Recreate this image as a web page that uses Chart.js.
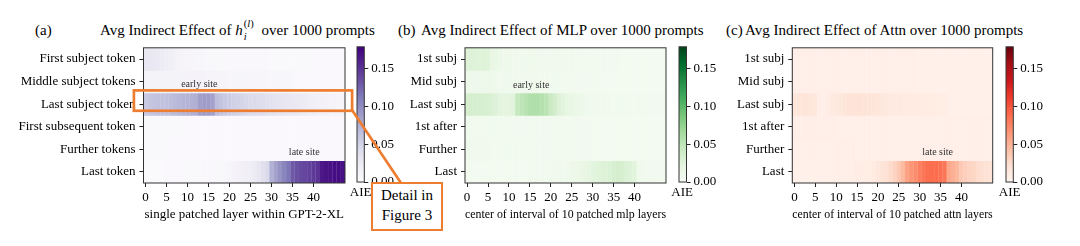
<!DOCTYPE html>
<html><head><meta charset="utf-8">
<script src="https://cdn.jsdelivr.net/npm/chart.js@4.4.0/dist/chart.umd.min.js"></script>
<style>
html,body{margin:0;padding:0;background:#fff;width:1080px;height:246px;overflow:hidden;font-family:"Liberation Serif",serif;}
body{position:relative;}
canvas{position:absolute;}
.t{position:absolute;font-size:15px;line-height:18px;white-space:nowrap;color:#000;}
.ss{display:inline-block;position:relative;width:15px;height:10px;}
.ss span{position:absolute;left:1px;font-size:10.5px;line-height:10px;}
.aie{position:absolute;top:184px;width:40px;text-align:center;font-size:13px;line-height:16px;color:#000;}
#detail{position:absolute;left:371px;top:182px;width:68px;height:43px;border:2.7px solid #ED7D31;background:#fff;font-size:15px;line-height:19.5px;text-align:center;padding-top:2px;color:#000;}
svg{position:absolute;left:0;top:0;}
</style></head><body>
<div class="t" style="left:35px;top:21px;">(a)</div>
<div class="t" style="left:100px;top:21px;">Avg Indirect Effect of <i>h</i><span class="ss"><span style="top:-6px">(<i>l</i>)</span><span style="top:7px"><i>i</i></span></span> over 1000 prompts</div>
<div class="t" style="left:398px;top:21px;">(b)</div>
<div class="t" style="left:421px;top:21px;">Avg Indirect Effect of MLP over 1000 prompts</div>
<div class="t" style="left:726px;top:21px;">(c)</div>
<div class="t" style="left:745px;top:21px;">Avg Indirect Effect of Attn over 1000 prompts</div>

<canvas id="ha" width="350" height="196" style="left:0;top:36px"></canvas>
<canvas id="hb" width="320" height="196" style="left:350px;top:36px"></canvas>
<canvas id="hc" width="296" height="196" style="left:700px;top:36px"></canvas>
<canvas id="ca" width="70" height="196" style="left:337px;top:36px"></canvas>
<canvas id="cb" width="70" height="196" style="left:658.5px;top:36px"></canvas>
<canvas id="cc" width="70" height="196" style="left:986px;top:36px"></canvas>
<div class="aie" style="left:340.6px;">AIE</div>
<div class="aie" style="left:662.2px;">AIE</div>
<div class="aie" style="left:989.6px;">AIE</div>

<svg width="1080" height="246">
  <rect x="133.9" y="90.4" width="218.2" height="20.4" fill="none" stroke="#ED7D31" stroke-width="2.7"/>
  <line x1="352" y1="110" x2="401" y2="183" stroke="#ED7D31" stroke-width="2.7"/>
</svg>
<div id="detail">Detail in<br>Figure 3</div>

<script>
// ---------- categories & tick labels ----------
const layers = [0,1,2,3,4,5,6,7,8,9,10,11,12,13,14,15,16,17,18,19,20,21,22,23,
                24,25,26,27,28,29,30,31,32,33,34,35,36,37,38,39,40,41,42,43,44,45,46,47];
const xTickLabels = [0,5,10,15,20,25,30,35,40];
const rowLabelsLong = ['First subject token','Middle subject tokens','Last subject token',
                       'First subsequent token','Further tokens','Last token'];
const rowLabelsShort = ['1st subj','Mid subj','Last subj','1st after','Further','Last'];
const colorbarTicks = [0, 0.05, 0.10, 0.15];
const aieMax = 0.179;

// ---------- (a) hidden states ----------
const stateFirstSubj = [0.030,0.030,0.028,0.027,0.025,0.022,0.019,0.016,0.013,0.011,
 0.010,0.009,0.008,0.008,0.008,0.007,0.007,0.007,0.007,0.007,
 0.006,0.006,0.006,0.006,0.006,0.006,0.006,0.006,0.006,0.006,
 0.005,0.005,0.005,0.005,0.005,0.005,0.005,0.005,0.005,0.005,
 0.004,0.004,0.004,0.004,0.004,0.004,0.004,0.004];
const stateMidSubj = [0.013,0.013,0.013,0.013,0.013,0.013,0.013,0.013,0.013,0.012,
 0.012,0.012,0.012,0.012,0.012,0.011,0.011,0.011,0.011,0.011,
 0.010,0.010,0.010,0.010,0.010,0.009,0.009,0.009,0.009,0.009,
 0.008,0.008,0.008,0.008,0.008,0.007,0.004,0.004,0.004,0.004,
 0.004,0.004,0.004,0.004,0.004,0.004,0.004,0.004];
const stateLastSubj = [0.058,0.060,0.062,0.063,0.063,0.064,0.066,0.068,0.070,0.072,
 0.073,0.074,0.076,0.086,0.088,0.088,0.085,0.066,0.062,0.058,
 0.055,0.052,0.050,0.048,0.046,0.044,0.043,0.041,0.040,0.038,
 0.036,0.034,0.032,0.031,0.030,0.029,0.028,0.026,0.024,0.022,
 0.020,0.018,0.016,0.014,0.013,0.012,0.011,0.010];
const stateFirstAfter = [0.005,0.005,0.005,0.005,0.005,0.005,0.005,0.005,0.005,0.005,
 0.004,0.004,0.004,0.004,0.004,0.004,0.004,0.004,0.004,0.004,
 0.004,0.004,0.004,0.004,0.004,0.004,0.004,0.004,0.004,0.004,
 0.004,0.004,0.004,0.004,0.004,0.004,0.004,0.004,0.004,0.004,
 0.004,0.004,0.004,0.004,0.004,0.004,0.004,0.004];
const stateFurther = [0.005,0.005,0.005,0.005,0.005,0.005,0.004,0.004,0.004,0.004,
 0.004,0.004,0.004,0.004,0.004,0.004,0.004,0.004,0.004,0.004,
 0.004,0.004,0.004,0.004,0.004,0.004,0.004,0.004,0.004,0.004,
 0.004,0.004,0.004,0.004,0.004,0.004,0.004,0.004,0.004,0.004,
 0.004,0.004,0.004,0.004,0.004,0.004,0.004,0.004];
const stateLast = [0.003,0.003,0.003,0.003,0.003,0.004,0.004,0.004,0.004,0.004,
 0.005,0.005,0.005,0.005,0.006,0.006,0.006,0.007,0.007,0.008,
 0.010,0.012,0.014,0.016,0.019,0.022,0.026,0.031,0.037,0.045,
 0.075,0.085,0.095,0.105,0.115,0.130,0.135,0.138,0.140,0.143,
 0.146,0.150,0.165,0.168,0.170,0.172,0.172,0.170];

// ---------- (b) MLP ----------
const mlpFirstSubj = [0.027,0.028,0.028,0.027,0.027,0.026,0.018,0.017,0.012,0.011,
 0.011,0.010,0.010,0.010,0.010,0.010,0.010,0.009,0.009,0.009,
 0.009,0.009,0.008,0.008,0.008,0.008,0.007,0.007,0.007,0.007,
 0.007,0.006,0.006,0.006,0.006,0.006,0.006,0.005,0.005,0.005,
 0.005,0.005,0.005,0.005,0.005,0.005,0.005,0.005];
const mlpMidSubj = [0.012,0.012,0.012,0.012,0.012,0.012,0.011,0.011,0.009,0.009,
 0.009,0.009,0.009,0.009,0.009,0.009,0.008,0.008,0.008,0.008,
 0.007,0.007,0.007,0.006,0.006,0.006,0.006,0.006,0.006,0.006,
 0.006,0.006,0.005,0.005,0.005,0.005,0.005,0.005,0.005,0.005,
 0.005,0.005,0.005,0.005,0.005,0.005,0.005,0.005];
const mlpLastSubj = [0.034,0.035,0.035,0.035,0.034,0.032,0.030,0.028,0.024,0.022,
 0.022,0.024,0.045,0.050,0.054,0.057,0.058,0.058,0.056,0.052,
 0.042,0.036,0.028,0.024,0.020,0.018,0.015,0.013,0.011,0.010,
 0.009,0.009,0.008,0.008,0.008,0.007,0.007,0.007,0.007,0.006,
 0.006,0.006,0.006,0.006,0.006,0.006,0.006,0.006];
const mlpFirstAfter = [0.007,0.007,0.007,0.007,0.007,0.007,0.007,0.007,0.007,0.007,
 0.006,0.006,0.006,0.006,0.006,0.006,0.006,0.006,0.006,0.006,
 0.006,0.006,0.006,0.006,0.006,0.006,0.006,0.006,0.006,0.006,
 0.005,0.005,0.005,0.005,0.005,0.005,0.005,0.005,0.005,0.005,
 0.005,0.005,0.005,0.005,0.005,0.005,0.005,0.005];
const mlpFurther = [0.009,0.009,0.009,0.009,0.009,0.008,0.007,0.007,0.007,0.007,
 0.007,0.007,0.007,0.007,0.007,0.006,0.006,0.006,0.006,0.006,
 0.006,0.006,0.006,0.006,0.006,0.006,0.006,0.006,0.006,0.006,
 0.005,0.005,0.005,0.005,0.005,0.005,0.005,0.005,0.005,0.005,
 0.005,0.005,0.005,0.005,0.005,0.005,0.005,0.005];
const mlpLast = [0.005,0.005,0.005,0.005,0.005,0.005,0.005,0.005,0.005,0.005,
 0.005,0.005,0.005,0.005,0.005,0.006,0.006,0.006,0.006,0.007,
 0.007,0.008,0.009,0.010,0.011,0.012,0.013,0.015,0.019,0.021,
 0.023,0.025,0.027,0.028,0.030,0.033,0.035,0.034,0.030,0.028,
 0.025,0.010,0.008,0.007,0.007,0.006,0.006,0.006];

// ---------- (c) Attention ----------
const attnFirstSubj = [0.006,0.006,0.006,0.006,0.006,0.006,0.006,0.006,0.006,0.006,
 0.006,0.006,0.006,0.006,0.006,0.006,0.006,0.006,0.006,0.006,
 0.006,0.006,0.006,0.006,0.006,0.006,0.006,0.006,0.006,0.006,
 0.005,0.005,0.005,0.005,0.005,0.005,0.005,0.005,0.005,0.005,
 0.005,0.005,0.005,0.005,0.005,0.005,0.005,0.005];
const attnMidSubj = [0.006,0.006,0.006,0.006,0.006,0.006,0.006,0.006,0.006,0.006,
 0.006,0.006,0.006,0.006,0.006,0.006,0.006,0.006,0.006,0.006,
 0.006,0.006,0.006,0.006,0.006,0.006,0.006,0.006,0.006,0.006,
 0.005,0.005,0.005,0.005,0.005,0.005,0.005,0.005,0.005,0.005,
 0.005,0.005,0.005,0.005,0.005,0.005,0.005,0.005];
const attnLastSubj = [0.016,0.017,0.017,0.017,0.016,0.015,0.007,0.006,0.008,0.012,
 0.013,0.014,0.017,0.018,0.019,0.019,0.019,0.018,0.018,0.017,
 0.016,0.014,0.013,0.012,0.012,0.012,0.011,0.011,0.011,0.011,
 0.011,0.010,0.010,0.010,0.010,0.010,0.009,0.006,0.005,0.005,
 0.005,0.005,0.005,0.005,0.005,0.005,0.005,0.005];
const attnFirstAfter = [0.007,0.007,0.007,0.007,0.007,0.007,0.007,0.007,0.007,0.007,
 0.006,0.006,0.006,0.006,0.006,0.006,0.006,0.006,0.006,0.006,
 0.006,0.006,0.006,0.006,0.006,0.006,0.006,0.006,0.006,0.006,
 0.006,0.006,0.006,0.006,0.006,0.006,0.006,0.006,0.006,0.006,
 0.006,0.006,0.006,0.006,0.006,0.006,0.006,0.006];
const attnFurther = [0.006,0.006,0.006,0.006,0.006,0.006,0.006,0.006,0.006,0.006,
 0.007,0.007,0.007,0.007,0.007,0.006,0.006,0.006,0.006,0.006,
 0.006,0.006,0.006,0.006,0.006,0.006,0.006,0.006,0.006,0.006,
 0.006,0.006,0.006,0.006,0.006,0.006,0.006,0.006,0.006,0.006,
 0.006,0.006,0.006,0.006,0.006,0.006,0.006,0.006];
const attnLast = [0.005,0.005,0.005,0.005,0.005,0.005,0.006,0.006,0.006,0.006,
 0.006,0.007,0.007,0.007,0.007,0.008,0.008,0.009,0.010,0.011,
 0.014,0.017,0.020,0.025,0.030,0.036,0.045,0.058,0.065,0.070,
 0.078,0.082,0.086,0.088,0.088,0.086,0.082,0.055,0.050,0.046,
 0.036,0.033,0.030,0.028,0.024,0.022,0.020,0.019];

// ---------- colormaps (matplotlib / ColorBrewer) ----------
const PURPLES = ['#fcfbfd','#efedf5','#dadaeb','#bcbddc','#9e9ac8','#807dba','#6a51a3','#54278f','#3f007d'];
const GREENS  = ['#f7fcf5','#e5f5e0','#c7e9c0','#a1d99b','#74c476','#41ab5d','#238b45','#006d2c','#00441b'];
const REDS    = ['#fff5f0','#fee0d2','#fcbba1','#fc9272','#fb6a4a','#ef3b2c','#cb181d','#a50f15','#67000d'];

function hex2rgb(h){ return [parseInt(h.substr(1,2),16),parseInt(h.substr(3,2),16),parseInt(h.substr(5,2),16)]; }
function cmap(stops, v){
  const t = Math.max(0, Math.min(1, v / aieMax));
  const n = stops.length - 1, p = t * n;
  const i = Math.min(n - 1, Math.floor(p)), f = p - i;
  const a = hex2rgb(stops[i]), b = hex2rgb(stops[i+1]);
  return 'rgb(' + a.map((c,k)=>Math.round(c + (b[k]-c)*f)).join(',') + ')';
}

const FONT = "'Liberation Serif', serif";
Chart.defaults.font.family = FONT;
Chart.defaults.color = '#000';

const framePlugin = {
  id: 'frame',
  afterDraw(chart, args, opts) {
    const {ctx, chartArea: a} = chart;
    ctx.save();
    ctx.strokeStyle = opts.color || '#333';
    ctx.lineWidth = opts.width || 1;
    ctx.strokeRect(a.left, a.top, a.right - a.left, a.bottom - a.top);
    ctx.restore();
  }
};
const sitePlugin = {
  id: 'sites',
  afterDatasetsDraw(chart, args, opts) {
    const {ctx} = chart; const xs = chart.scales.x, ys = chart.scales.y;
    ctx.save();
    ctx.font = "10px " + FONT;
    ctx.fillStyle = '#333';
    ctx.textAlign = 'center'; ctx.textBaseline = 'middle';
    (opts.items || []).forEach(it => ctx.fillText(it.text, xs.getPixelForValue(it.col), ys.getPixelForValue(it.row)));
    ctx.restore();
  }
};

function heatmap(id, rows, rowLabels, stops, xTitle, yWidth, padRight, sites) {
  const datasets = rows.map((vals, r) => ({
    data: vals.map(() => [r - 0.52, r + 0.52]),
    backgroundColor: vals.map(v => cmap(stops, v)),
    borderWidth: 0, grouped: false, barPercentage: 1.06, categoryPercentage: 1
  }));
  return new Chart(document.getElementById(id), {
    type: 'bar',
    data: { labels: layers, datasets },
    plugins: [framePlugin, sitePlugin],
    options: {
      responsive: false, animation: false, devicePixelRatio: 1,
      layout: { padding: { top: 7, right: padRight, left: 0, bottom: 0 } },
      plugins: { legend: {display:false}, tooltip: {enabled:false},
        frame: { color: '#333', width: 1 }, sites: { items: sites } },
      scales: {
        x: {
          type: 'category', offset: true,
          grid: { offset: false, drawOnChartArea: false, drawTicks: true, tickLength: 4, color: '#222' },
          border: { display: false },
          ticks: { autoSkip: false, maxRotation: 0, padding: 3, color: '#000', font: { size: 13 },
            callback: (v, i) => xTickLabels.includes(layers[i]) ? String(layers[i]) : null },
          title: { display: true, text: xTitle, color: '#000', font: { size: 13 }, padding: { top: 0, bottom: 10 } },
          afterFit: s => { s.height = 49; }
        },
        y: {
          type: 'linear', reverse: true, min: -0.5, max: 5.5,
          afterBuildTicks: s => { s.ticks = rowLabels.map((_, i) => ({ value: i })); },
          grid: { drawOnChartArea: false, drawTicks: true, tickLength: 4, color: '#222' },
          border: { display: false },
          ticks: { padding: 4, color: '#000', font: { size: 13 }, callback: v => rowLabels[v] },
          afterFit: s => { s.width = yWidth; }
        }
      }
    }
  });
}

function colorbar(id, stops, yWidth) {
  return new Chart(document.getElementById(id), {
    type: 'bar',
    data: { labels: ['AIE'], datasets: [{
      data: [[0, aieMax]], borderWidth: 0, barPercentage: 1, categoryPercentage: 1,
      backgroundColor: c => {
        const ch = c.chart; if (!ch.chartArea) return stops[0];
        const ys = ch.scales.y;
        const g = ch.ctx.createLinearGradient(0, ys.getPixelForValue(0), 0, ys.getPixelForValue(aieMax));
        stops.forEach((s, i) => g.addColorStop(i / (stops.length - 1), s));
        return g;
      }
    }]},
    plugins: [framePlugin],
    options: {
      responsive: false, animation: false, devicePixelRatio: 1,
      layout: { padding: { top: 6, left: 20, right: 0, bottom: 0 } },
      plugins: { legend: {display:false}, tooltip: {enabled:false}, frame: { color: '#333', width: 1 } },
      scales: {
        x: { ticks: { display: false }, grid: { display: false }, border: { display: false },
             afterFit: s => { s.height = 50; } },
        y: { position: 'right', min: 0, max: aieMax,
             afterBuildTicks: s => { s.ticks = colorbarTicks.map(v => ({ value: v })); },
             ticks: { padding: 3, color: '#000', font: { size: 13 }, callback: v => v.toFixed(2) },
             grid: { drawOnChartArea: false, drawTicks: true, tickLength: 4, color: '#222' },
             border: { display: false },
             afterFit: s => { s.width = yWidth; } }
      }
    }
  });
}

heatmap('ha', [stateFirstSubj, stateMidSubj, stateLastSubj, stateFirstAfter, stateFurther, stateLast],
  rowLabelsLong, PURPLES, 'single patched layer within GPT-2-XL', 143.5, 5,
  [{text:'early site', col:12.8, row:1.12}, {text:'late site', col:37.8, row:4.14}]);
heatmap('hb', [mlpFirstSubj, mlpMidSubj, mlpLastSubj, mlpFirstAfter, mlpFurther, mlpLast],
  rowLabelsShort, GREENS, 'center of interval of 10 patched mlp layers', 115, 4,
  [{text:'early site', col:15.3, row:1.16}]);
heatmap('hc', [attnFirstSubj, attnMidSubj, attnLastSubj, attnFirstAfter, attnFurther, attnLast],
  rowLabelsShort, REDS, 'center of interval of 10 patched attn layers', 92.3, 3.3,
  [{text:'late site', col:34.3, row:4.14}]);
colorbar('ca', PURPLES, 42.7);
colorbar('cb', GREENS, 42.5);
colorbar('cc', REDS, 42.7);
</script>
</body></html>
